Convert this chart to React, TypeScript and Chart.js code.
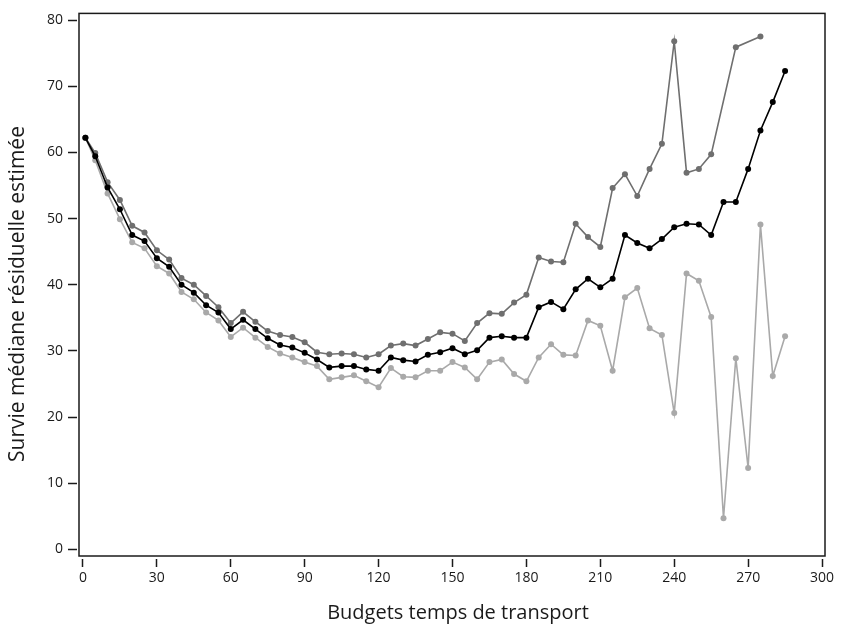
import React, { useEffect, useRef } from "react";
import { Chart, registerables } from "chart.js";

Chart.register(...registerables);

const xValues = [1, 5, 10, 15, 20, 25, 30, 35, 40, 45, 50, 55, 60, 65, 70, 75, 80, 85, 90, 95, 100, 105, 110, 115, 120, 125, 130, 135, 140, 145, 150, 155, 160, 165, 170, 175, 180, 185, 190, 195, 200, 205, 210, 215, 220, 225, 230, 235, 240, 245, 250, 255, 260, 265, 270, 275, 280, 285];

const medianSeries = [62.2, 59.4, 54.7, 51.4, 47.5, 46.6, 44.0, 42.7, 40.0, 38.8, 36.9, 35.8, 33.3, 34.7, 33.3, 31.9, 30.9, 30.5, 29.7, 28.7, 27.5, 27.7, 27.7, 27.2, 27.0, 29.0, 28.6, 28.4, 29.4, 29.8, 30.4, 29.5, 30.1, 32.0, 32.2, 32.0, 32.0, 36.6, 37.4, 36.3, 39.3, 40.9, 39.6, 40.9, 47.5, 46.3, 45.5, 46.9, 48.7, 49.2, 49.1, 47.5, 52.5, 52.5, 57.5, 63.3, 67.6, 72.3];

const upperSeries: (number | null)[] = [62.2, 59.9, 55.5, 52.8, 48.9, 47.9, 45.2, 43.8, 41.0, 40.0, 38.3, 36.6, 34.2, 35.9, 34.4, 33.0, 32.4, 32.1, 31.3, 29.8, 29.5, 29.6, 29.5, 29.0, 29.5, 30.8, 31.1, 30.8, 31.8, 32.8, 32.6, 31.5, 34.2, 35.7, 35.6, 37.3, 38.5, 44.1, 43.5, 43.4, 49.2, 47.2, 45.7, 54.6, 56.7, 53.4, 57.5, 61.3, 76.8, 56.9, 57.5, 59.7, null, 75.9, null, 77.5, null, null];

const lowerSeries = [62.2, 58.8, 53.8, 49.9, 46.4, 45.5, 42.8, 41.7, 38.9, 37.8, 35.8, 34.6, 32.1, 33.5, 32.0, 30.6, 29.6, 29.0, 28.3, 27.7, 25.7, 26.0, 26.3, 25.4, 24.5, 27.4, 26.1, 26.0, 27.0, 27.0, 28.3, 27.5, 25.7, 28.3, 28.7, 26.5, 25.4, 29.0, 31.0, 29.4, 29.3, 34.6, 33.8, 27.0, 38.1, 39.5, 33.4, 32.4, 20.6, 41.7, 40.6, 35.1, 4.7, 28.9, 12.3, 49.1, 26.2, 32.2];

const xTicks = [0, 30, 60, 90, 120, 150, 180, 210, 240, 270, 300];
const yTicks = [0, 10, 20, 30, 40, 50, 60, 70, 80];

const xTitle = "Budgets temps de transport";
const yTitle = "Survie médiane résiduelle estimée";

const FONT = "'Open Sans', 'Noto Sans', sans-serif";
const TEXT = "#1a1a1a";

const framePlugin = {
  id: "frame",
  afterDraw(chart: any) {
    const { ctx, chartArea } = chart;
    ctx.save();
    ctx.strokeStyle = TEXT;
    ctx.lineWidth = 1.5;
    ctx.strokeRect(chartArea.left, chartArea.top, chartArea.right - chartArea.left, chartArea.bottom - chartArea.top);
    ctx.fillStyle = TEXT;
    ctx.textAlign = "center";
    ctx.textBaseline = "middle";
    ctx.font = `20px ${FONT}`;
    ctx.fillText(xTitle, 458, 613);
    ctx.translate(18, 294);
    ctx.rotate(-Math.PI / 2);
    ctx.font = `21px ${FONT}`;
    ctx.fillText(yTitle, 0, 0);
    ctx.restore();
  },
};

function toPoints(arr: (number | null)[]) {
  return xValues.map((x, i) => ({ x, y: arr[i] }));
}

export default function App() {
  const ref = useRef<HTMLCanvasElement | null>(null);

  useEffect(() => {
    if (!ref.current) return;
    const mk = (data: (number | null)[], color: string) => ({
      data: toPoints(data),
      borderColor: color,
      backgroundColor: color,
      pointBackgroundColor: color,
      pointBorderColor: color,
      borderWidth: 1.6,
      pointRadius: 3,
      pointBorderWidth: 0,
      tension: 0,
      spanGaps: true,
    });
    const chart = new Chart(ref.current, {
      type: "line",
      data: {
        datasets: [
          { ...mk(lowerSeries, "#a9a9a9"), order: 3 },
          { ...mk(upperSeries, "#6f6f6f"), order: 2 },
          { ...mk(medianSeries, "#000000"), order: 1 },
        ],
      },
      options: {
        animation: false,
        responsive: false,
        devicePixelRatio: 1,
        layout: { padding: { left: 0, right: 16, top: 9, bottom: 0 } },
        plugins: { legend: { display: false }, tooltip: { enabled: false } },
        scales: {
          x: {
            type: "linear",
            min: -1.6,
            max: 301.2,
            afterBuildTicks: (s: any) => {
              s.ticks = xTicks.map((v) => ({ value: v }));
            },
            afterFit: (s: any) => {
              s.height = 73;
            },
            border: { display: false },
            grid: {
              drawOnChartArea: false,
              drawTicks: true,
              tickLength: 11,
              tickColor: TEXT,
              tickWidth: 1.5,
              tickBorderDash: [8, 3],
              tickBorderDashOffset: 8,
            },
            ticks: {
              autoSkip: false,
              maxRotation: 0,
              color: TEXT,
              padding: 3,
              font: { family: FONT, size: 14 },
            },
            title: { display: false },
          },
          y: {
            type: "linear",
            min: -1,
            max: 81,
            afterBuildTicks: (s: any) => {
              s.ticks = yTicks.map((v) => ({ value: v }));
            },
            afterFit: (s: any) => {
              s.width = 79;
            },
            border: { display: false },
            grid: {
              drawOnChartArea: false,
              drawTicks: true,
              tickLength: 11,
              tickColor: TEXT,
              tickWidth: 1.5,
              tickBorderDash: [9, 4],
            },
            ticks: {
              color: TEXT,
              padding: 5,
              font: { family: FONT, size: 14 },
            },
            title: { display: false },
          },
        },
      },
      plugins: [framePlugin],
    });
    return () => chart.destroy();
  }, []);

  return (
    <div style={{ position: "fixed", left: 0, top: 0, width: 841, height: 629, background: "#fff" }}>
      <canvas ref={ref} width={841} height={629} style={{ display: "block" }} />
    </div>
  );
}
